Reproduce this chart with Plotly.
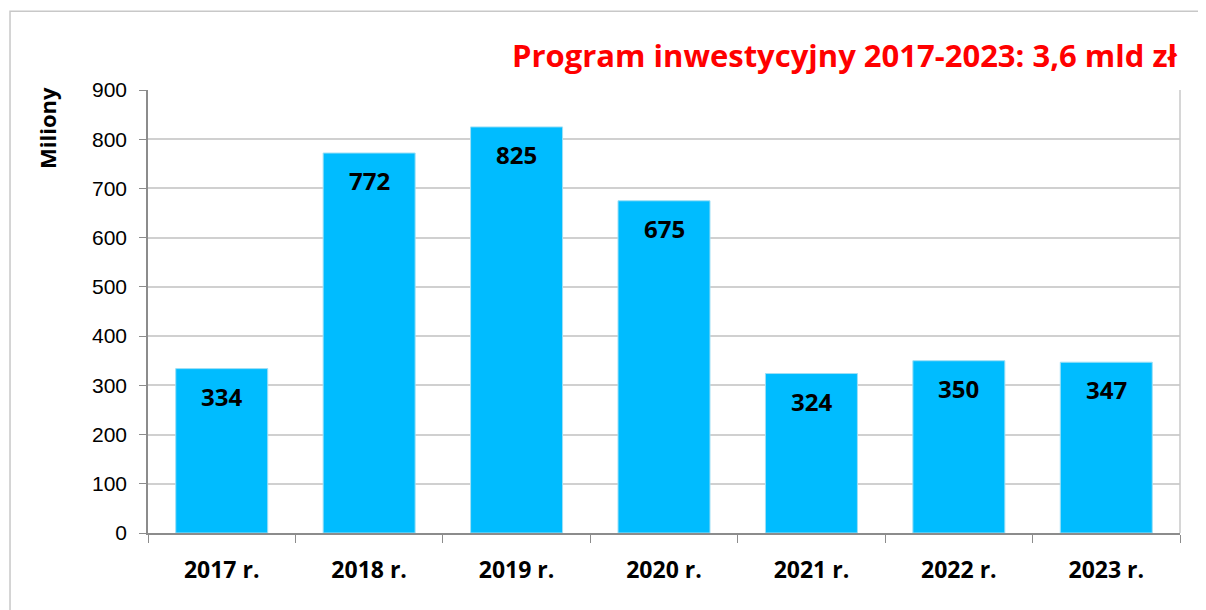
"""Bar chart: investment programme 2017-2023, values in millions."""

import plotly.graph_objects as go

lata = ["2017 r.", "2018 r.", "2019 r.", "2020 r.", "2021 r.", "2022 r.", "2023 r."]
wartosci = [334, 772, 825, 675, 324, 350, 347]
etykiety = ["334", "772", "825", "675", "324", "350", "347"]
y_ticki = [0, 100, 200, 300, 400, 500, 600, 700, 800, 900]

tytul = "Program inwestycyjny 2017-2023: 3,6 mld zł"
os_y = "Miliony"

FONT_BOLD = "Open Sans"
FONT_NUM = "Liberation Sans"

fig = go.Figure()

fig.add_trace(go.Bar(
    x=lata,
    y=wartosci,
    marker=dict(color="#00BCFF", line=dict(color="#9fdff5", width=1)),
    hoverinfo="skip",
))

# etykiety wartości wewnątrz słupków, pod górną krawędzią
for rok, val, txt in zip(lata, wartosci, etykiety):
    fig.add_annotation(
        x=rok, y=val, text=f"<b>{txt}</b>", showarrow=False,
        yanchor="top", yshift=-9,
        font=dict(family=FONT_BOLD, size=24, color="black"),
    )

fig.add_annotation(
    xref="paper", yref="paper", x=1.0, y=1.079, xanchor="right", yanchor="middle",
    text=f"<b>{tytul}</b>", showarrow=False,
    font=dict(family=FONT_BOLD, size=31, color="#FF0000"),
)

fig.add_annotation(
    xref="paper", yref="paper", x=-0.098, y=0.914, xanchor="center", yanchor="middle",
    text=f"<b>{os_y}</b>", textangle=-90, showarrow=False,
    font=dict(family=FONT_BOLD, size=22, color="black"),
)

# ramka wykresu
fig.add_shape(type="rect", xref="paper", yref="paper",
              x0=-0.1337, y0=-0.4, x1=1.1, y1=1.178,
              line=dict(color="#c8c8c8", width=1.5), layer="below")
# prawa krawędź obszaru wykresu
fig.add_shape(type="line", xref="paper", yref="paper",
              x0=1, y0=0, x1=1, y1=1,
              line=dict(color="#c8c8c8", width=1.5))

fig.update_layout(
    width=1206, height=610,
    margin=dict(l=140, r=34, t=82, b=85),
    paper_bgcolor="white", plot_bgcolor="white",
    showlegend=False,
    bargap=0.376,
    xaxis=dict(
        type="category", tickson="boundaries",
        ticks="outside", ticklen=8, tickcolor="#8c8c8c",
        showline=True, linecolor="#8c8c8c", linewidth=1.5,
        showgrid=False,
        tickfont=dict(family=FONT_BOLD, size=23, color="black"),
        ticklabelstandoff=16,
        tickprefix="<b>", ticksuffix="</b>",
    ),
    yaxis=dict(
        range=[0, 900], tickvals=y_ticki,
        ticks="outside", ticklen=7, tickcolor="#8c8c8c",
        showline=True, linecolor="#8c8c8c", linewidth=1.5,
        gridcolor="#d0d0d0", gridwidth=1.5,
        zeroline=False,
        tickfont=dict(family=FONT_NUM, size=21, color="black"),
        ticklabelstandoff=8,
    ),
)

fig.write_html("out.html")
